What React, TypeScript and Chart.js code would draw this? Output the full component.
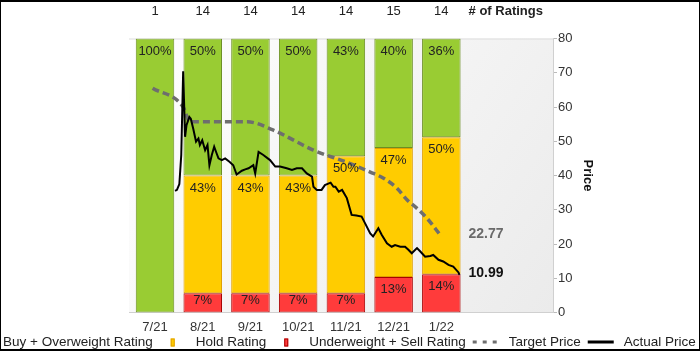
import React, { useEffect, useRef } from 'react';
import { Chart, registerables } from 'chart.js';
Chart.register(...registerables);

const FONT = "'Liberation Sans', Arial, sans-serif";

const months = ['7/21', '8/21', '9/21', '10/21', '11/21', '12/21', '1/22'];
const ratingCounts = [1, 14, 14, 14, 14, 15, 14];
const buyPct = [100, 50, 50, 50, 43, 40, 36];
const holdPct = [0, 43, 43, 43, 50, 47, 50];
const sellPct = [0, 7, 7, 7, 7, 13, 14];

// target price (x = month position)
const targetX = [-0.05, 0.59, 0.73, 1.93, 2.47, 3.32, 4.09, 4.51, 4.79, 5.07, 5.28, 5.49, 5.7, 5.97];
const targetY = [65.5, 60, 55.7, 55.7, 53.3, 47.4, 43.5, 41, 39.2, 36.3, 32.9, 30.4, 27.5, 22.77];

// actual price (x = month position)
const priceX = [0.42, 0.46, 0.51, 0.55, 0.59, 0.63, 0.66, 0.72, 0.75, 0.8, 0.86, 0.91, 0.94, 0.99, 1.05, 1.1, 1.14, 1.19, 1.24, 1.29, 1.33, 1.4, 1.47, 1.56, 1.64, 1.71, 1.82, 1.89, 1.96, 2.06, 2.1, 2.17, 2.27, 2.41, 2.52, 2.62, 2.76, 2.87, 2.97, 3.08, 3.18, 3.29, 3.32, 3.39, 3.49, 3.56, 3.68, 3.74, 3.78, 3.85, 3.92, 4.02, 4.12, 4.22, 4.33, 4.4, 4.51, 4.57, 4.68, 4.75, 4.86, 4.96, 5.03, 5.14, 5.24, 5.31, 5.38, 5.49, 5.56, 5.66, 5.77, 5.83, 5.94, 6.04, 6.15, 6.25, 6.36, 6.38];
const priceY = [35.5, 35.8, 37.5, 46, 70.4, 51.3, 54.7, 57.1, 56.6, 53.7, 49.9, 50.8, 48.9, 50.3, 47.4, 48.9, 43, 46, 48.4, 46.5, 45, 44.5, 45, 44, 43, 40.3, 41.4, 41.8, 42.1, 43, 40.6, 46.9, 46, 44.5, 42.6, 42.6, 42.1, 41.6, 42.1, 42.1, 40.6, 39.7, 36.7, 35.8, 35.8, 37.2, 37.9, 36.7, 36.7, 35.3, 35.8, 33.4, 28.5, 28.3, 28, 26.1, 23.1, 22.2, 24.6, 22.7, 20.2, 19.2, 19.7, 19.2, 19.2, 18.3, 17.3, 18.8, 17.8, 16.3, 16.5, 16.8, 15.4, 14.9, 13.9, 13.4, 11.7, 10.99];

const lastTarget = 22.77;
const lastPrice = 10.99;

const GREEN = '#99cc33';
const GREEN_B = '#6b8e23';
const YELLOW = '#ffcc00';
const YELLOW_B = '#e0a000';
const RED = '#ff3b3b';
const RED_B = '#a80000';

const bgPlugin = {
  id: 'bgPlugin',
  beforeDraw(chart: any) {
    const { ctx, chartArea: a } = chart;
    ctx.save();
    ctx.fillStyle = '#ffffff';
    ctx.fillRect(0, 0, chart.width, chart.height);
    const g = ctx.createLinearGradient(a.left, a.top, a.right, a.bottom);
    g.addColorStop(0, '#ffffff');
    g.addColorStop(1, '#ebebeb');
    ctx.fillStyle = g;
    ctx.fillRect(a.left, a.top, a.right - a.left, a.bottom - a.top);
    ctx.strokeStyle = '#dddddd';
    ctx.lineWidth = 1;
    ctx.beginPath();
    ctx.moveTo(a.left, a.top + 0.5);
    ctx.lineTo(a.right, a.top + 0.5);
    ctx.stroke();
    ctx.restore();
  },
};

const pctLabelPlugin = {
  id: 'pctLabelPlugin',
  afterDatasetsDraw(chart: any) {
    const { ctx } = chart;
    ctx.save();
    ctx.font = `13px ${FONT}`;
    ctx.fillStyle = '#222';
    ctx.textAlign = 'center';
    ctx.textBaseline = 'middle';
    chart.data.datasets.forEach((ds: any, i: number) => {
      if (ds.type === 'line') return;
      const meta = chart.getDatasetMeta(i);
      meta.data.forEach((bar: any, j: number) => {
        const v = ds.data[j].y;
        if (!v) return;
        const { x, y, base } = bar.getProps(['x', 'y', 'base'], true);
        const h = base - y;
        ctx.fillText(v + '%', x, y + Math.min(12.5, h * 0.38));
      });
    });
    ctx.restore();
  },
};

const extrasPlugin = {
  id: 'extrasPlugin',
  afterDraw(chart: any) {
    const { ctx } = chart;
    const xs = chart.scales.x;
    const yp = chart.scales.yPrice;
    ctx.save();
    // counts on top
    ctx.font = `13px ${FONT}`;
    ctx.fillStyle = '#222';
    ctx.textAlign = 'center';
    ctx.textBaseline = 'middle';
    ratingCounts.forEach((c, i) => {
      ctx.fillText(String(c), xs.getPixelForValue(i), 11);
    });
    ctx.font = `bold 13px ${FONT}`;
    ctx.textAlign = 'left';
    ctx.fillText('# of Ratings', xs.getPixelForValue(6.57), 11);

    // end labels
    ctx.font = `bold 14px ${FONT}`;
    ctx.fillStyle = '#6a6a6a';
    ctx.fillText(lastTarget.toFixed(2), xs.getPixelForValue(6.57), yp.getPixelForValue(lastTarget));
    ctx.fillStyle = '#111';
    ctx.fillText(lastPrice.toFixed(2), xs.getPixelForValue(6.57), yp.getPixelForValue(lastPrice) - 1.5);

    // legend
    const items = [
      { label: 'Buy + Overweight Rating', kind: 'box', fill: GREEN, stroke: GREEN_B },
      { label: 'Hold Rating', kind: 'box', fill: YELLOW, stroke: YELLOW_B },
      { label: 'Underweight + Sell Rating', kind: 'box', fill: RED, stroke: RED_B },
      { label: 'Target Price', kind: 'dash', stroke: '#6e6e6e' },
      { label: 'Actual Price', kind: 'line', stroke: '#000' },
    ];
    const ly = 342;
    ctx.font = `13.5px ${FONT}`;
    ctx.textBaseline = 'middle';
    ctx.textAlign = 'left';
    let x = -33;
    items.forEach((it) => {
      const cx = x + 13;
      if (it.kind === 'box') {
        ctx.fillStyle = it.fill as string;
        ctx.fillRect(cx - 2, ly - 3.5, 4, 8);
        ctx.strokeStyle = it.stroke;
        ctx.lineWidth = 1;
        ctx.strokeRect(cx - 2 + 0.5, ly - 3.5 + 0.5, 3, 7);
      } else {
        ctx.strokeStyle = it.stroke;
        ctx.lineWidth = 3;
        ctx.setLineDash(it.kind === 'dash' ? [4, 6] : []);
        ctx.beginPath();
        ctx.moveTo(x, ly);
        ctx.lineTo(x + 26, ly);
        ctx.stroke();
        ctx.setLineDash([]);
      }
      x += 36;
      ctx.fillStyle = '#222';
      ctx.fillText(it.label, x, ly);
      x += ctx.measureText(it.label).width + 7;
    });

    // frame
    ctx.fillStyle = '#000';
    ctx.fillRect(0, 0, chart.width, 2);
    ctx.fillRect(0, chart.height - 2, chart.width, 2);
    ctx.fillRect(0, 0, 1, chart.height);
    ctx.fillRect(chart.width - 1, 0, 1, chart.height);
    ctx.restore();
  },
};

export default function App() {
  const ref = useRef<HTMLCanvasElement>(null);
  useEffect(() => {
    document.body.style.margin = '0';
    Chart.defaults.font.family = FONT;
    const barCommon = {
      borderWidth: 1,
      borderSkipped: false,
      categoryPercentage: 1,
      barPercentage: 0.807,
      order: 1,
      yAxisID: 'y',
      xAxisID: 'x',
    };
    const chart = new Chart(ref.current!, {
      type: 'bar',
      data: {
        datasets: [
          {
            type: 'line',
            label: 'Actual Price',
            data: priceX.map((x, i) => ({ x, y: priceY[i] })),
            borderColor: '#000',
            borderWidth: 2,
            pointRadius: 0,
            tension: 0,
            yAxisID: 'yPrice',
            xAxisID: 'x',
            order: 0,
          } as any,
          {
            type: 'line',
            label: 'Target Price',
            data: targetX.map((x, i) => ({ x, y: targetY[i] })),
            borderColor: '#6e6e6e',
            borderWidth: 3.5,
            borderDash: [7, 4],
            pointRadius: 0,
            cubicInterpolationMode: 'monotone',
            yAxisID: 'yPrice',
            xAxisID: 'x',
            order: 0,
          } as any,
          {
            ...barCommon,
            label: 'Underweight + Sell Rating',
            data: sellPct.map((v, i) => ({ x: i, y: v })),
            backgroundColor: RED,
            borderColor: RED_B,
          } as any,
          {
            ...barCommon,
            label: 'Hold Rating',
            data: holdPct.map((v, i) => ({ x: i, y: v })),
            backgroundColor: YELLOW,
            borderColor: YELLOW_B,
          } as any,
          {
            ...barCommon,
            label: 'Buy + Overweight Rating',
            data: buyPct.map((v, i) => ({ x: i, y: v })),
            backgroundColor: GREEN,
            borderColor: GREEN_B,
          } as any,
        ],
      },
      options: {
        responsive: false,
        animation: false,
        devicePixelRatio: 1,
        layout: { padding: { left: 129, right: 101, top: 38.5, bottom: 20 } },
        plugins: { legend: { display: false }, tooltip: { enabled: false } },
        events: [],
        scales: {
          x: {
            type: 'linear',
            min: -0.545,
            max: 8.34,
            offset: false,
            stacked: true,
            afterBuildTicks: (s: any) => {
              s.ticks = months.map((_, i) => ({ value: i }));
            },
            afterFit: (s: any) => {
              s.height = 18.5;
            },
            ticks: {
              callback: (v: any) => months[v] ?? '',
              color: '#333',
              font: { size: 13 },
              padding: 7,
              maxRotation: 0,
              autoSkip: false,
            },
            grid: { display: true, drawOnChartArea: false, drawTicks: false, offset: false },
            border: { display: true, color: '#d0d0d0' },
          },
          y: { type: 'linear', min: 0, max: 100, stacked: true, display: false },
          yPrice: {
            type: 'linear',
            position: 'right',
            min: 0,
            max: 80,
            afterFit: (s: any) => {
              s.width = 46;
            },
            ticks: { stepSize: 10, color: '#333', font: { size: 13 }, padding: 1 },
            grid: { drawOnChartArea: false, drawTicks: true, tickLength: 4, color: '#bbbbbb' },
            border: { display: true, color: '#d0d0d0' },
            title: {
              display: true,
              text: 'Price',
              color: '#111',
              font: { size: 13, weight: 'bold' },
              padding: { top: 4, bottom: 0 },
            },
          },
        },
      } as any,
      plugins: [bgPlugin, pctLabelPlugin, extrasPlugin],
    });
    return () => chart.destroy();
  }, []);
  return (
    <div style={{ width: 700, height: 351 }}>
      <canvas ref={ref} width={700} height={351} style={{ display: 'block' }} />
    </div>
  );
}
